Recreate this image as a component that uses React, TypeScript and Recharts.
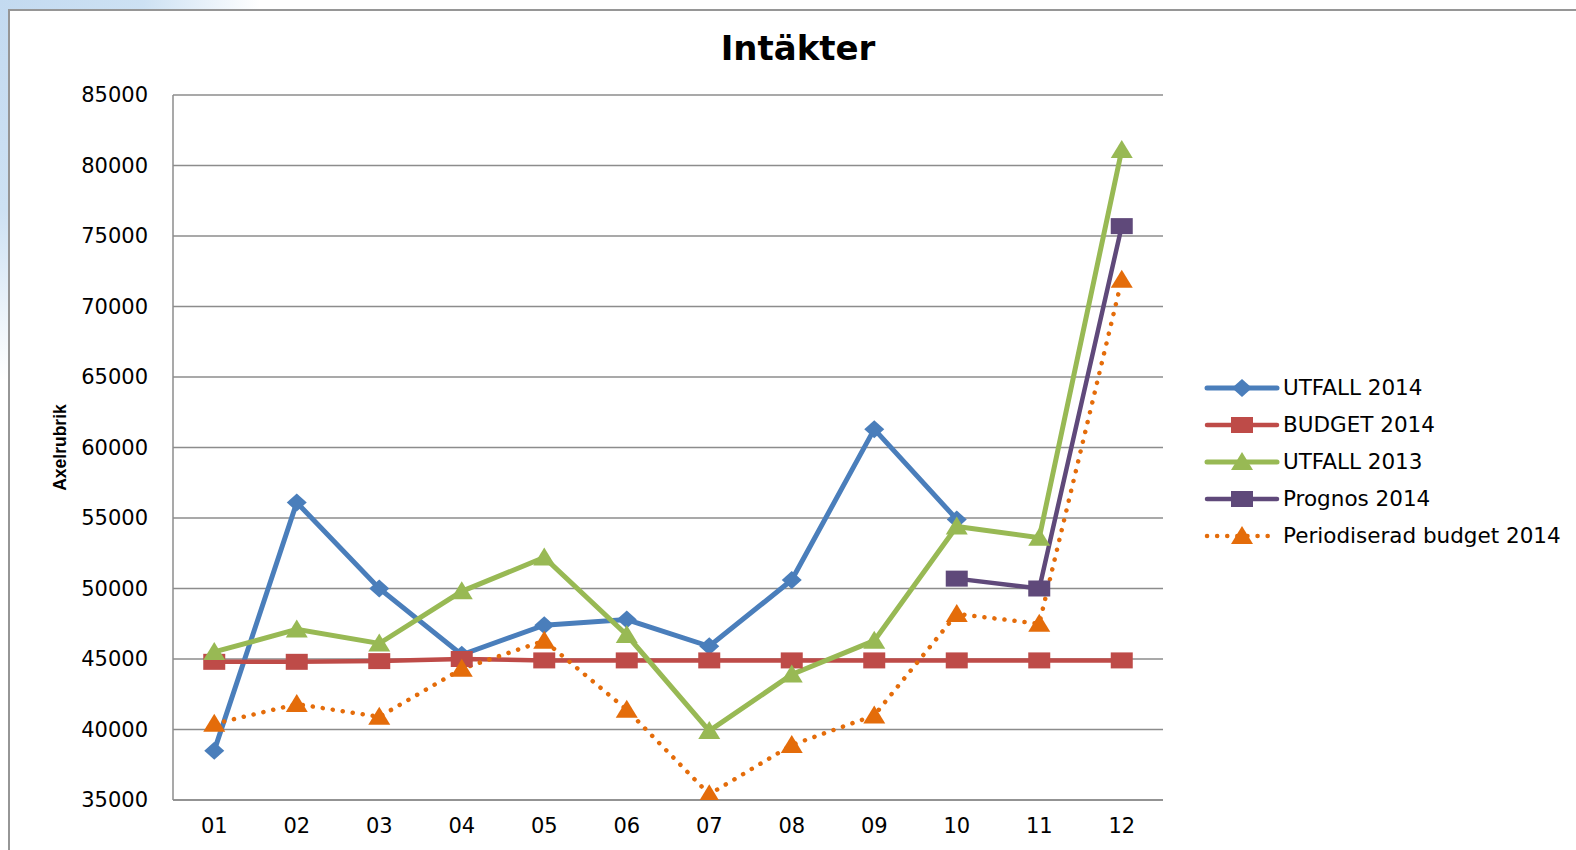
import React from "react";
import {
    LineChart,
    Line,
    XAxis,
    YAxis,
    CartesianGrid,
    Legend,
} from "recharts";

const months = ["01", "02", "03", "04", "05", "06", "07", "08", "09", "10", "11", "12"];

const utfall2014 = [38500, 56100, 50000, 45300, 47400, 47800, 45900, 50600, 61300, 54900, null, null];
const budget2014 = [44800, 44800, 44850, 45000, 44900, 44900, 44900, 44900, 44900, 44900, 44900, 44900];
const utfall2013 = [45500, 47100, 46100, 49800, 52200, 46700, 39900, 43900, 46300, 54400, 53600, 81100];
const prognos2014 = [null, null, null, null, null, null, null, null, null, 50700, 50000, 75700];
const periodiserad2014 = [40400, 41800, 40900, 44300, 46300, 41400, 35400, 38900, 41000, 48200, 47500, 71900];

const yTicks = [35000, 40000, 45000, 50000, 55000, 60000, 65000, 70000, 75000, 80000, 85000];

type Shape = "diamond" | "square" | "triangle";

const series: { key: string; name: string; color: string; shape: Shape; width: number; dotted?: boolean }[] = [
    { key: "u14", name: "UTFALL 2014", color: "#4A7EBB", shape: "diamond", width: 5 },
    { key: "b14", name: "BUDGET 2014", color: "#BE4B48", shape: "square", width: 4.5 },
    { key: "u13", name: "UTFALL 2013", color: "#98B954", shape: "triangle", width: 5 },
    { key: "p14", name: "Prognos 2014", color: "#5F497A", shape: "square", width: 4.5 },
    { key: "pb14", name: "Periodiserad budget 2014", color: "#E46C0A", shape: "triangle", width: 4.5, dotted: true },
];

const data = months.map((m, i) => ({
    month: m,
    u14: utfall2014[i],
    b14: budget2014[i],
    u13: utfall2013[i],
    p14: prognos2014[i],
    pb14: periodiserad2014[i],
}));

const FONT = "'DejaVu Sans', sans-serif";

function Marker({ shape, cx, cy, color }: { shape: Shape; cx: number; cy: number; color: string }) {
    if (shape === "diamond") {
        return <polygon points={`${cx},${cy - 9} ${cx + 10},${cy} ${cx},${cy + 9} ${cx - 10},${cy}`} fill={color} />;
    }
    if (shape === "square") {
        return <rect x={cx - 11} y={cy - 8} width={22} height={16} fill={color} />;
    }
    return <polygon points={`${cx},${cy - 10} ${cx + 11},${cy + 8} ${cx - 11},${cy + 8}`} fill={color} />;
}

const makeDot = (shape: Shape, color: string) => (p: any) => {
    if (p.cx == null || p.cy == null || p.value == null) return <g key={p.index} />;
    return <Marker key={p.index} shape={shape} cx={p.cx} cy={p.cy} color={color} />;
};

function renderLegend(props: any) {
    const payload = [...(props.payload || [])].sort(
        (a: any, b: any) =>
            series.findIndex((s) => s.key === a.dataKey) - series.findIndex((s) => s.key === b.dataKey)
    );
    return (
        <div style={{ fontFamily: FONT, fontSize: 21.5, color: "#000" }}>
            {payload.map((entry: any) => {
                const s = series.find((x) => x.key === entry.dataKey) || series[0];
                return (
                    <div key={s.key} style={{ display: "flex", alignItems: "center", height: 37 }}>
                        <svg width={76} height={24} style={{ marginRight: 3 }}>
                            <line
                                x1={3}
                                x2={73}
                                y1={12}
                                y2={12}
                                stroke={s.color}
                                strokeWidth={s.width}
                                strokeLinecap="round"
                                strokeDasharray={s.dotted ? "0.1 10" : undefined}
                            />
                            <Marker shape={s.shape} cx={38} cy={12} color={s.color} />
                        </svg>
                        <span>{entry.value}</span>
                    </div>
                );
            })}
        </div>
    );
}

const axisTitle = (p: any) => {
    const vb = p.viewBox;
    const cx = vb.x + 60;
    const cy = vb.y + vb.height / 2;
    return (
        <text
            x={cx}
            y={cy}
            transform={`rotate(-90 ${cx} ${cy})`}
            textAnchor="middle"
            dominantBaseline="central"
            fontFamily="'Liberation Sans', sans-serif"
            fontWeight="bold"
            fontSize={17.5}
            fill="#000"
        >
            Axelrubrik
        </text>
    );
};

export default function App() {
    return (
        <div
            style={{
                position: "absolute",
                left: 0,
                top: 0,
                width: 1576,
                height: 850,
                overflow: "hidden",
                background:
                    "radial-gradient(ellipse 260px 380px at 0px 0px, #c3daf0 0%, #cde1f3 55%, #ffffff 100%)",
            }}
        >
            <div
                style={{
                    position: "absolute",
                    left: 8,
                    top: 9,
                    width: 1620,
                    height: 900,
                    background: "#fff",
                    borderLeft: "2px solid #969696",
                    borderTop: "2px solid #969696",
                }}
            />
            <div
                style={{
                    position: "absolute",
                    left: 598,
                    top: 31,
                    width: 400,
                    textAlign: "center",
                    fontFamily: FONT,
                    fontWeight: "bold",
                    fontSize: 34,
                    lineHeight: "34px",
                    color: "#000",
                }}
            >
                Intäkter
            </div>
            <div style={{ position: "absolute", left: 0, top: 0 }}>
                <LineChart
                    width={1576}
                    height={850}
                    data={data}
                    margin={{ top: 95, right: 413, bottom: 0, left: 0 }}
                >
                    <CartesianGrid vertical={false} stroke="#8c8c8c" strokeWidth={1.5} />
                    <XAxis
                        dataKey="month"
                        scale="band"
                        height={50}
                        tickLine={false}
                        tickMargin={12}
                        axisLine={{ stroke: "#8c8c8c", strokeWidth: 1.5 }}
                        tick={{ fontFamily: FONT, fontSize: 21, fill: "#000" }}
                        interval={0}
                    />
                    <YAxis
                        width={173}
                        domain={[35000, 85000]}
                        ticks={yTicks}
                        tickLine={false}
                        tickMargin={19}
                        axisLine={{ stroke: "#8c8c8c", strokeWidth: 1.5 }}
                        tick={{ fontFamily: FONT, fontSize: 21, fill: "#000" }}
                        allowDataOverflow
                        label={axisTitle}
                    />
                    <Legend
                        layout="vertical"
                        align="center"
                        verticalAlign="middle"
                        wrapperStyle={{ left: 1204, top: 369, width: 372 }}
                        content={renderLegend}
                    />
                    {series.map((s) => (
                        <Line
                            key={s.key}
                            type="linear"
                            dataKey={s.key}
                            name={s.name}
                            stroke={s.color}
                            strokeWidth={s.width}
                            strokeDasharray={s.dotted ? "0.1 10" : undefined}
                            strokeLinecap="round"
                            dot={makeDot(s.shape, s.color)}
                            activeDot={false}
                            isAnimationActive={false}
                        />
                    ))}
                </LineChart>
            </div>
        </div>
    );
}
